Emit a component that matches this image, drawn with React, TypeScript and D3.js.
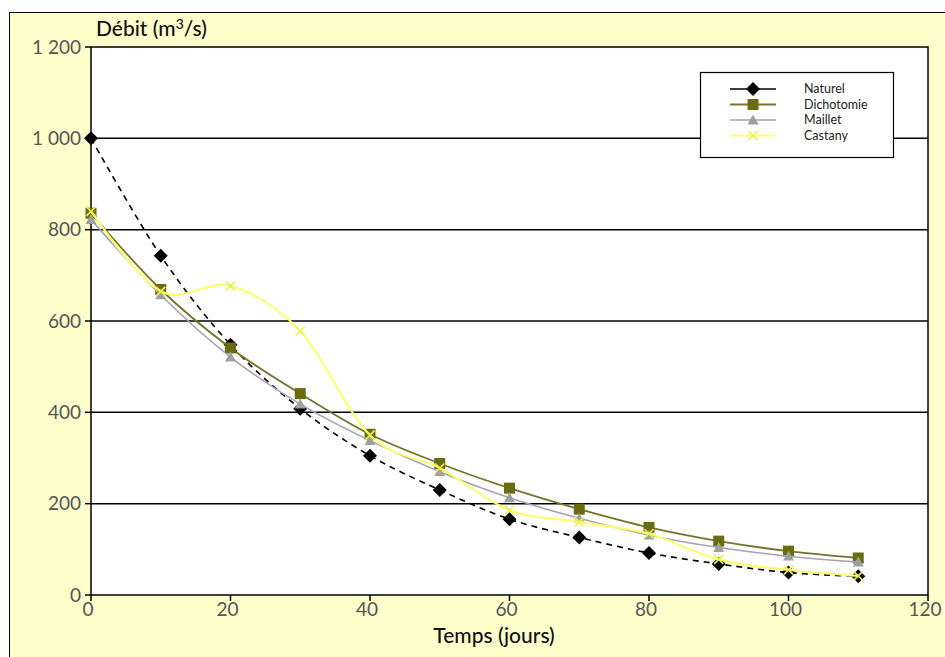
import React from "react";
import * as d3 from "d3";

const days = [0, 10, 20, 30, 40, 50, 60, 70, 80, 90, 100, 110];
const naturel = [1000, 743, 548, 408, 305, 230, 166, 126, 92, 68, 49, 41];
const dichotomie = [836, 669, 541, 441, 352, 288, 234, 188, 148, 118, 96, 81];
const maillet = [822, 657, 521, 418, 338, 270, 213, 168, 131, 104, 85, 72];
const castany = [840, 665, 677, 578, 350, 278, 186, 160, 134, 78, 55, 42];
const yTicks = [0, 200, 400, 600, 800, 1000, 1200];
const xTicks = [0, 20, 40, 60, 80, 100, 120];
const seriesNames = ["Naturel", "Dichotomie", "Maillet", "Castany"];

const W = 945;
const H = 657;
const x = d3.scaleLinear().domain([0, 120]).range([91, 928]);
const y = d3.scaleLinear().domain([0, 1200]).range([595, 47]);
const fmt = (v: number) => (v >= 1000 ? `1 ${String(v % 1000).padStart(3, "0")}` : String(v));
const FONT = "Lato, 'DejaVu Sans', sans-serif";

type Style = { name: string; values: number[]; stroke: string; width: number; dash?: string; marker: string; mfill: string };
const styles: Style[] = [
  { name: seriesNames[0], values: naturel, stroke: "#000000", width: 1.6, dash: "6,5", marker: "diamond", mfill: "#000000" },
  { name: seriesNames[1], values: dichotomie, stroke: "#75742a", width: 1.8, marker: "square", mfill: "#6b6b10" },
  { name: seriesNames[2], values: maillet, stroke: "#a3a3b3", width: 1.6, marker: "triangle", mfill: "#a0a0a0" },
  { name: seriesNames[3], values: castany, stroke: "#ffff70", width: 2.2, marker: "cross", mfill: "#f0f050" },
];

function Marker({ kind, cx, cy, fill }: { kind: string; cx: number; cy: number; fill: string }) {
  if (kind === "diamond") {
    const r = 7;
    return <path d={`M${cx},${cy - r}L${cx + r},${cy}L${cx},${cy + r}L${cx - r},${cy}Z`} fill={fill} />;
  }
  if (kind === "square") {
    const r = 5.5;
    return <rect x={cx - r} y={cy - r} width={2 * r} height={2 * r} fill={fill} />;
  }
  if (kind === "triangle") {
    const r = 5.5;
    return <path d={`M${cx},${cy - r}L${cx + r},${cy + r * 0.8}L${cx - r},${cy + r * 0.8}Z`} fill={fill} />;
  }
  const r = 4.5;
  return (
    <path d={`M${cx - r},${cy - r}L${cx + r},${cy + r}M${cx + r},${cy - r}L${cx - r},${cy + r}`} stroke={fill} strokeWidth={1.6} fill="none" />
  );
}

export default function App() {
  const line = d3
    .line<number>()
    .x((_, i) => x(days[i]))
    .y((d) => y(d))
    .curve(d3.curveCatmullRom.alpha(0));

  const legX = 700;
  const legY = 72;
  return (
    <svg width={W} height={H} style={{ position: "absolute", left: 0, top: 0 }} fontFamily={FONT}>
      <rect x={9.5} y={12.5} width={W} height={H} fill="#ffffcc" stroke="#000" strokeWidth={1} />
      <rect x={x(0)} y={y(1200)} width={x(120) - x(0)} height={y(0) - y(1200)} fill="#fff" stroke="#000" strokeWidth={1.5} />
      {yTicks.map((t) => (
        <g key={t}>
          {t > 0 && t < 1200 && <line x1={x(0)} x2={x(120)} y1={y(t)} y2={y(t)} stroke="#000" strokeWidth={1.5} />}
          <line x1={x(0) - 6} x2={x(0)} y1={y(t)} y2={y(t)} stroke="#000" strokeWidth={1.5} />
          <text x={x(0) - 10} y={y(t)} dy="0.35em" textAnchor="end" fontSize={19} fill="#555">
            {fmt(t)}
          </text>
        </g>
      ))}
      {xTicks.map((t) => (
        <g key={t}>
          <line x1={x(t)} x2={x(t)} y1={y(0)} y2={y(0) + 6} stroke="#000" strokeWidth={1.5} />
          <text x={x(t) - 3} y={y(0) + 21} textAnchor="middle" fontSize={19} fill="#555">
            {t}
          </text>
        </g>
      ))}
      <text x={494} y={643} textAnchor="middle" fontSize={21} fill="#111" fontWeight={500}>
        Temps (jours)
      </text>
      <text x={96} y={36} fontSize={21} fill="#111" fontWeight={500}>
        Débit (m<tspan dy={-7} fontSize={14}>3</tspan>
        <tspan dy={7}>/s)</tspan>
      </text>
      {styles.map((s) => (
        <g key={s.name}>
          <path d={line(s.values) || ""} fill="none" stroke={s.stroke} strokeWidth={s.width} strokeDasharray={s.dash} />
          {s.values.map((v, i) => (
            <Marker key={i} kind={s.marker} cx={x(days[i])} cy={y(v)} fill={s.mfill} />
          ))}
        </g>
      ))}
      <rect x={legX + 0.5} y={legY + 0.5} width={193} height={85} fill="#fff" stroke="#000" strokeWidth={1.2} />
      {styles.map((s, i) => {
        const cy = legY + 17 + i * 15.5;
        return (
          <g key={s.name}>
            <line x1={legX + 30} x2={legX + 76} y1={cy} y2={cy} stroke={s.stroke} strokeWidth={s.width} />
            <Marker kind={s.marker} cx={legX + 53} cy={cy} fill={s.mfill} />
            <text x={legX + 104} y={cy} dy="0.35em" fontSize={12.5} fill="#222">
              {s.name}
            </text>
          </g>
        );
      })}
    </svg>
  );
}
